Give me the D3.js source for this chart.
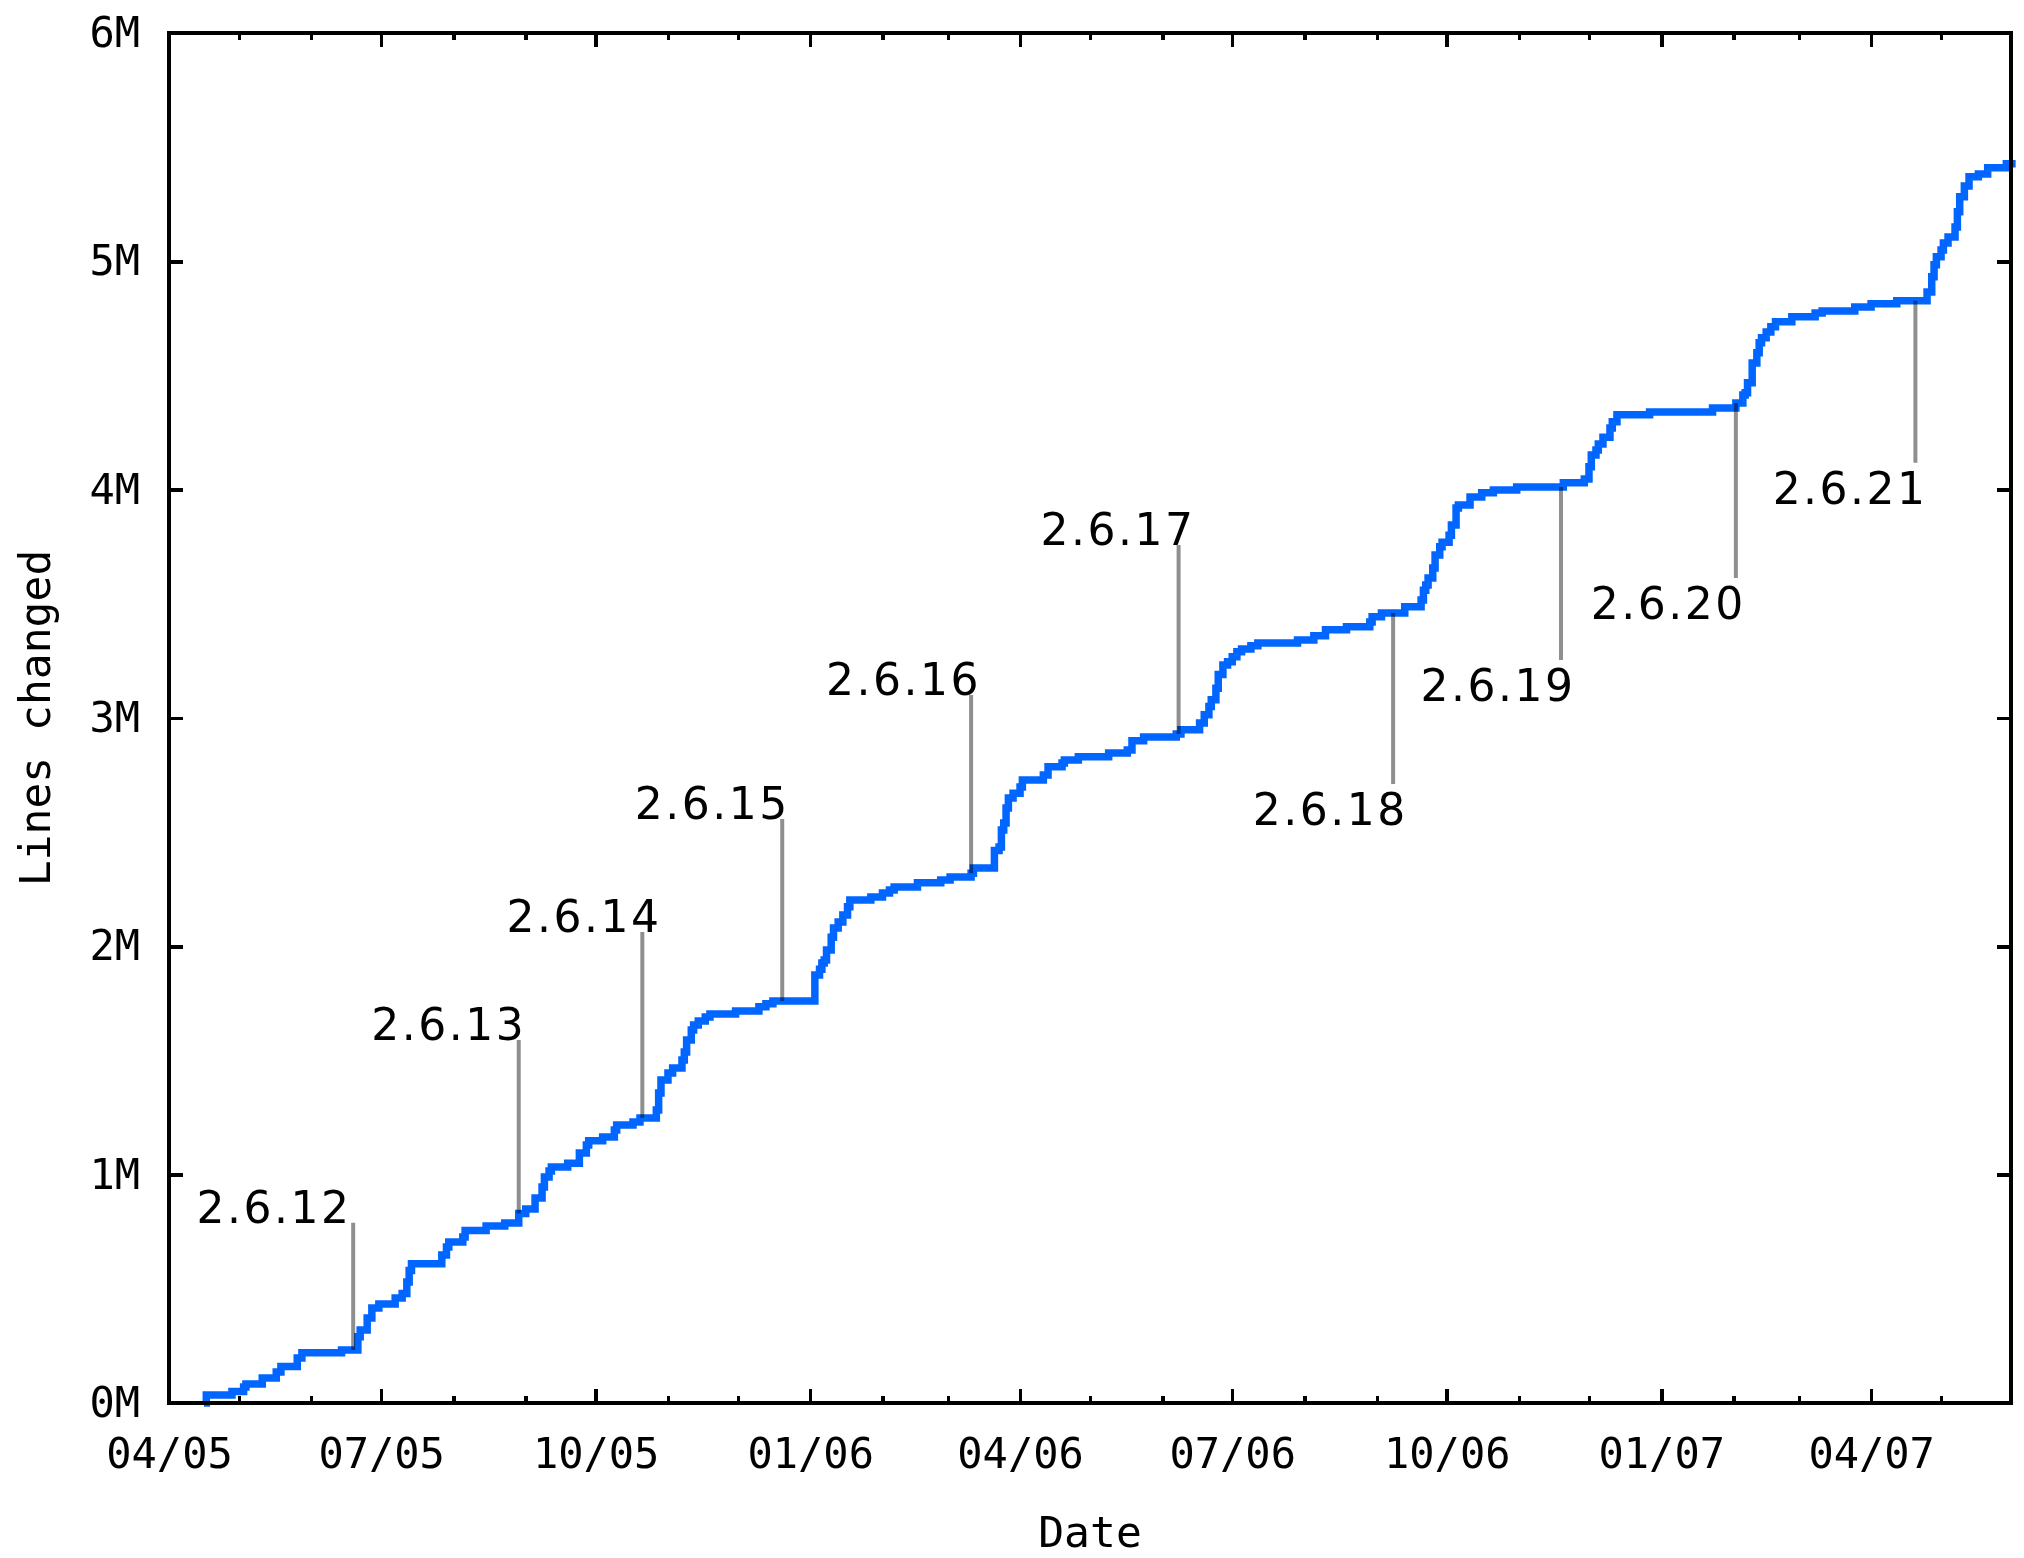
<!DOCTYPE html>
<html>
<head>
<meta charset="utf-8">
<script src="https://cdn.jsdelivr.net/npm/d3@7"></script>
<style>
  html, body { margin: 0; padding: 0; background: #fff; }
  svg { display: block; }
  .tick text { font-family: "DejaVu Sans Mono", monospace; font-size: 42px; fill: #000; }
  .axis-title { font-family: "DejaVu Sans Mono", monospace; font-size: 43px; fill: #000; }
  .release-label { font-family: "DejaVu Sans", sans-serif; font-size: 44px; letter-spacing: 2.5px; fill: #000; }
</style>
</head>
<body>
<div id="chart"></div>
<script>
// cumulative lines changed (millions) at each step date
const commitDates = [
  "2005-04-16", "2005-04-17", "2005-04-28", "2005-05-03", "2005-05-04", "2005-05-11", "2005-05-17", "2005-05-19",
  "2005-05-26", "2005-05-28", "2005-06-14", "2005-06-21", "2005-06-22", "2005-06-25", "2005-06-27", "2005-06-30",
  "2005-07-07", "2005-07-10", "2005-07-12", "2005-07-13", "2005-07-14", "2005-07-27", "2005-07-29", "2005-07-30",
  "2005-08-05", "2005-08-06", "2005-08-15", "2005-08-23", "2005-08-29", "2005-09-01", "2005-09-05", "2005-09-08",
  "2005-09-09", "2005-09-11", "2005-09-12", "2005-09-19", "2005-09-24", "2005-09-27", "2005-09-28", "2005-10-04",
  "2005-10-09", "2005-10-10", "2005-10-17", "2005-10-20", "2005-10-27", "2005-10-28", "2005-10-29", "2005-11-01",
  "2005-11-03", "2005-11-07", "2005-11-08", "2005-11-09", "2005-11-11", "2005-11-12", "2005-11-14", "2005-11-17",
  "2005-11-19", "2005-11-30", "2005-12-10", "2005-12-13", "2005-12-16", "2006-01-03", "2006-01-05", "2006-01-06",
  "2006-01-07", "2006-01-08", "2006-01-10", "2006-01-11", "2006-01-13", "2006-01-15", "2006-01-17", "2006-01-18",
  "2006-01-27", "2006-02-01", "2006-02-04", "2006-02-06", "2006-02-16", "2006-02-26", "2006-03-02", "2006-03-11",
  "2006-03-12", "2006-03-21", "2006-03-23", "2006-03-24", "2006-03-25", "2006-03-26", "2006-03-27", "2006-03-29",
  "2006-04-01", "2006-04-02", "2006-04-11", "2006-04-13", "2006-04-19", "2006-04-20", "2006-04-26", "2006-05-09",
  "2006-05-17", "2006-05-19", "2006-05-24", "2006-06-07", "2006-06-09", "2006-06-17", "2006-06-19", "2006-06-21",
  "2006-06-22", "2006-06-24", "2006-06-25", "2006-06-27", "2006-06-29", "2006-07-01", "2006-07-03", "2006-07-05",
  "2006-07-09", "2006-07-12", "2006-07-29", "2006-08-05", "2006-08-10", "2006-08-19", "2006-08-29", "2006-08-30",
  "2006-09-03", "2006-09-13", "2006-09-20", "2006-09-21", "2006-09-22", "2006-09-23", "2006-09-25", "2006-09-26",
  "2006-09-28", "2006-09-29", "2006-10-02", "2006-10-03", "2006-10-05", "2006-10-06", "2006-10-11", "2006-10-16",
  "2006-10-21", "2006-10-31", "2006-11-20", "2006-11-29", "2006-12-01", "2006-12-02", "2006-12-04", "2006-12-05",
  "2006-12-07", "2006-12-10", "2006-12-11", "2006-12-13", "2006-12-27", "2007-01-23", "2007-02-02", "2007-02-05",
  "2007-02-06", "2007-02-07", "2007-02-09", "2007-02-11", "2007-02-12", "2007-02-13", "2007-02-15", "2007-02-17",
  "2007-02-19", "2007-02-26", "2007-03-08", "2007-03-11", "2007-03-25", "2007-04-01", "2007-04-12", "2007-04-25",
  "2007-04-27", "2007-04-28", "2007-04-29", "2007-05-01", "2007-05-02", "2007-05-04", "2007-05-07", "2007-05-08",
  "2007-05-09", "2007-05-11", "2007-05-13", "2007-05-17", "2007-05-21", "2007-05-29", "2007-06-02"
];

const linesChangedM = [
  0, 0.035, 0.05, 0.07, 0.083, 0.11, 0.136, 0.16,
  0.197, 0.22, 0.232, 0.29, 0.32, 0.372, 0.416, 0.434,
  0.46, 0.48, 0.53, 0.58, 0.61, 0.648, 0.683, 0.705,
  0.727, 0.755, 0.775, 0.788, 0.83, 0.85, 0.898, 0.946,
  0.99, 1.016, 1.034, 1.05, 1.095, 1.13, 1.148, 1.165,
  1.196, 1.218, 1.231, 1.248, 1.283, 1.358, 1.415, 1.445,
  1.467, 1.502, 1.537, 1.59, 1.634, 1.656, 1.673, 1.69,
  1.704, 1.717, 1.735, 1.748, 1.761, 1.875, 1.9, 1.927,
  1.94, 1.984, 2.04, 2.08, 2.107, 2.137, 2.173, 2.203,
  2.216, 2.234, 2.247, 2.26, 2.278, 2.29, 2.304, 2.32,
  2.343, 2.42, 2.435, 2.51, 2.54, 2.606, 2.65, 2.67,
  2.698, 2.729, 2.75, 2.786, 2.803, 2.816, 2.83, 2.847,
  2.86, 2.9, 2.917, 2.93, 2.948, 2.978, 3.014, 3.05,
  3.08, 3.13, 3.19, 3.232, 3.246, 3.268, 3.29, 3.302,
  3.316, 3.329, 3.342, 3.36, 3.386, 3.4, 3.42, 3.443,
  3.46, 3.487, 3.517, 3.56, 3.583, 3.613, 3.657, 3.714,
  3.75, 3.77, 3.8, 3.845, 3.92, 3.933, 3.968, 3.986,
  3.999, 4.012, 4.03, 4.047, 4.1, 4.152, 4.174, 4.2,
  4.23, 4.27, 4.297, 4.328, 4.34, 4.358, 4.38, 4.415,
  4.424, 4.468, 4.555, 4.6, 4.643, 4.665, 4.69, 4.713,
  4.735, 4.757, 4.774, 4.783, 4.8, 4.814, 4.827, 4.866,
  4.932, 4.985, 5.02, 5.05, 5.08, 5.107, 5.15, 5.217,
  5.283, 5.33, 5.37, 5.383, 5.41, 5.427, 5.427
];

const releaseNames = ["2.6.12", "2.6.13", "2.6.14", "2.6.15", "2.6.16", "2.6.17", "2.6.18", "2.6.19", "2.6.20", "2.6.21"];
const releaseDates = ["2005-06-19", "2005-08-29", "2005-10-21", "2005-12-20", "2006-03-11",
  "2006-06-08", "2006-09-08", "2006-11-19", "2007-02-02", "2007-04-20"];
// where each release label sits: centre date and height (millions)
const releaseLabelDates = ["2005-05-16", "2005-07-30", "2005-09-26", "2005-11-20", "2006-02-10",
  "2006-05-13", "2006-08-12", "2006-10-23", "2007-01-04", "2007-03-23"];
const releaseLabelM = [0.859, 1.66, 2.133, 2.628, 3.171, 3.828, 2.602, 3.145, 3.504, 4.008];

const yTicks = [0, 1, 2, 3, 4, 5, 6];
const xDomain = ["2005-04-01", "2007-05-31"];

const parse = d3.utcParse("%Y-%m-%d");
const width = 2024, height = 1558;
const margin = { top: 33, right: 13, bottom: 155, left: 169 };
const iw = width - margin.left - margin.right;
const ih = height - margin.top - margin.bottom;

const data = commitDates.map((d, i) => ({ date: parse(d), value: linesChangedM[i] }));

const x = d3.scaleUtc().domain(xDomain.map(parse)).range([0, iw]);
const y = d3.scaleLinear().domain([0, 6]).range([ih, 0]);

const svg = d3.select("#chart").append("svg")
  .attr("width", width)
  .attr("height", height);

const g = svg.append("g").attr("transform", `translate(${margin.left},${margin.top})`);

// month ticks, labelled every quarter
const months = d3.utcMonth.range(x.domain()[0], d3.utcDay.offset(x.domain()[1], 1));
const quarters = months.filter((d) => d.getUTCMonth() % 3 === 0);
const minorMonths = months.filter((d) => d.getUTCMonth() % 3 !== 0);
const fmt = d3.utcFormat("%m/%y");

function styleAxis(sel) {
  sel.select(".domain").remove();
  sel.selectAll(".tick line").attr("stroke", "#000").attr("stroke-width", 3.5).attr("shape-rendering", "crispEdges");
}

g.append("g").attr("transform", `translate(0,${ih})`)
  .call(d3.axisBottom(x).tickValues(minorMonths).tickSize(-7).tickFormat(""))
  .call(styleAxis);
g.append("g").attr("transform", `translate(0,${ih})`)
  .call(d3.axisBottom(x).tickValues(quarters).tickSize(-14).tickPadding(35).tickFormat(fmt))
  .call(styleAxis);
g.append("g")
  .call(d3.axisTop(x).tickValues(minorMonths).tickSize(-7).tickFormat(""))
  .call(styleAxis);
g.append("g")
  .call(d3.axisTop(x).tickValues(quarters).tickSize(-14).tickFormat(""))
  .call(styleAxis);

g.append("g")
  .call(d3.axisLeft(y).tickValues(yTicks).tickSize(-14).tickPadding(29).tickFormat((d) => d + "M"))
  .call(styleAxis);
g.append("g").attr("transform", `translate(${iw},0)`)
  .call(d3.axisRight(y).tickValues(yTicks).tickSize(-14).tickFormat(""))
  .call(styleAxis);

// data line
const line = d3.line()
  .x((d) => x(d.date))
  .y((d) => y(d.value))
  .curve(d3.curveStepAfter);

g.append("path")
  .datum(data)
  .attr("fill", "none")
  .attr("stroke", "#0066ff")
  .attr("stroke-width", 7.5)
  .attr("stroke-linejoin", "miter")
  .attr("d", line);

// release markers
const bisect = d3.bisector((d) => d.date).right;
const valueAt = (date) => data[Math.max(0, bisect(data, date) - 1)].value;

releaseNames.forEach((name, i) => {
  const date = parse(releaseDates[i]);
  const lx = x(date);
  const cy = y(valueAt(date));
  const ly = y(releaseLabelM[i]);
  const above = ly < cy;
  const end = above ? ly + 16 : ly - 25;

  g.append("line")
    .attr("x1", lx).attr("x2", lx)
    .attr("y1", cy).attr("y2", end)
    .attr("stroke", "#8f8f8f")
    .attr("stroke-width", 4)
    .style("mix-blend-mode", "multiply");

  g.append("text")
    .attr("class", "release-label")
    .attr("x", x(parse(releaseLabelDates[i])))
    .attr("y", ly + 16)
    .attr("text-anchor", "middle")
    .text(name);
});

// border
g.append("rect")
  .attr("width", iw)
  .attr("height", ih)
  .attr("fill", "none")
  .attr("stroke", "#000")
  .attr("stroke-width", 3.5)
  .attr("shape-rendering", "crispEdges");

// axis titles
svg.append("text")
  .attr("class", "axis-title")
  .attr("x", margin.left + iw / 2)
  .attr("y", 1547)
  .attr("text-anchor", "middle")
  .text("Date");

svg.append("text")
  .attr("class", "axis-title")
  .attr("transform", `translate(50,${margin.top + ih / 2}) rotate(-90)`)
  .attr("text-anchor", "middle")
  .text("Lines changed");
</script>
</body>
</html>
